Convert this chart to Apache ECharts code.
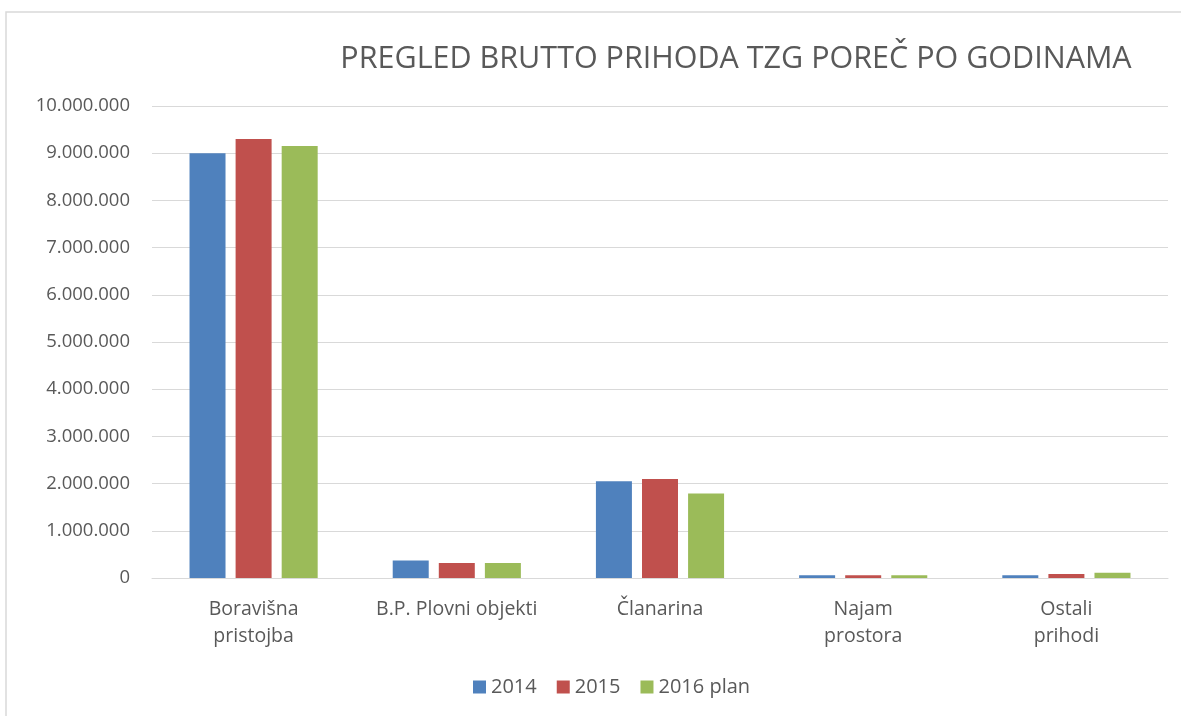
<!DOCTYPE html>
<html>
<head>
<meta charset="utf-8">
<title>Pregled brutto prihoda TZG Poreč</title>
<script src="https://cdn.jsdelivr.net/npm/echarts@6/dist/echarts.min.js"></script>
<style>
  html, body { margin: 0; padding: 0; background: #fff; }
  #chart { width: 1181px; height: 716px; }
</style>
</head>
<body>
<div id="chart"></div>
<script>
  // kategorije i vrijednosti (očitano sa slike)
  var categories = ['Boravišna\npristojba', 'B.P. Plovni objekti', 'Članarina', 'Najam\nprostora', 'Ostali\nprihodi'];
  var seriesNames = ['2014', '2015', '2016 plan'];
  var values2014 = [9000000, 370000, 2050000, 60000, 60000];
  var values2015 = [9300000, 320000, 2100000, 60000, 85000];
  var values2016 = [9150000, 320000, 1790000, 60000, 110000];
  var colors = ['#4F81BD', '#C0504D', '#9BBB59'];

  var font = '"Open Sans", "Noto Sans", sans-serif';

  function fmt(v) {
    return String(v).replace(/\B(?=(\d{3})+(?!\d))/g, '.');
  }

  var chart = echarts.init(document.getElementById('chart'));
  var option = {
    backgroundColor: '#fff',
    animation: false,
    color: colors,
    title: {
      text: 'PREGLED BRUTTO PRIHODA TZG POREČ PO GODINAMA',
      left: 731,
      top: 39,
      textAlign: 'center',
      textStyle: { fontFamily: font, fontSize: 30.5, fontWeight: 'normal', color: '#595959' }
    },
    legend: {
      bottom: 14,
      left: 468,
      itemWidth: 13,
      itemHeight: 13,
      itemGap: 20,
      icon: 'rect',
      textStyle: { fontFamily: font, fontSize: 20, color: '#595959' },
      data: seriesNames
    },
    graphic: [{
      type: 'rect',
      shape: { x: 6, y: 12, width: 1200, height: 720 },
      style: { fill: 'none', stroke: '#d9d9d9', lineWidth: 1.5 },
      silent: true
    }],
    grid: { left: 152, right: 13, top: 106, bottom: 138 },
    xAxis: {
      type: 'category',
      data: categories,
      axisLine: { lineStyle: { color: '#d9d9d9' } },
      axisTick: { show: false },
      axisLabel: { fontFamily: font, fontSize: 19.5, color: '#595959', margin: 18, lineHeight: 27, interval: 0 }
    },
    yAxis: {
      type: 'value',
      min: 0,
      max: 10000000,
      interval: 1000000,
      axisLine: { show: false },
      axisTick: { show: false },
      splitLine: { lineStyle: { color: '#d9d9d9' } },
      axisLabel: { fontFamily: font, fontSize: 18.5, color: '#595959', margin: 22, formatter: fmt }
    },
    series: [
      { name: seriesNames[0], type: 'bar', data: values2014, barWidth: 36, barGap: '28%' },
      { name: seriesNames[1], type: 'bar', data: values2015, barWidth: 36, barGap: '28%' },
      { name: seriesNames[2], type: 'bar', data: values2016, barWidth: 36, barGap: '28%' }
    ]
  };
  chart.setOption(option);
</script>
</body>
</html>
